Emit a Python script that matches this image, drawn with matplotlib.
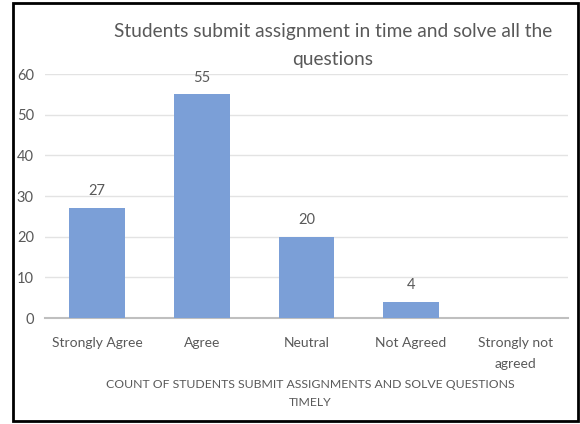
import matplotlib
matplotlib.use('Agg')
import matplotlib.pyplot as plt
from matplotlib.patches import Rectangle

categories = ['Strongly Agree', 'Agree', 'Neutral', 'Not Agreed', 'Strongly not\nagreed']
counts = [27, 55, 20, 4, 0]
bar_labels = ['27', '55', '20', '4', '']
yticks = [0, 10, 20, 30, 40, 50, 60]

plt.rcParams['font.family'] = ['Lato', 'DejaVu Sans']
txt = '#595959'

fig = plt.figure(figsize=(5.8, 4.24), dpi=100)
ax = fig.add_axes([45/580, 1-318/424, 523/580, 244/424])

x = list(range(len(categories)))
bars = ax.bar(x, counts, width=0.535, color='#7b9fd7', zorder=3)
for b, lab in zip(bars, bar_labels):
    if lab:
        ax.text(b.get_x() + b.get_width()/2, b.get_height() + 2.4, lab,
                ha='center', va='bottom', fontsize=10.5, color=txt)

ax.set_xlim(-0.5, 4.5)
ax.set_ylim(0, 60)
ax.set_yticks(yticks)
ax.set_xticks(x)
ax.set_xticklabels(categories, fontsize=10, color=txt, linespacing=1.9)
ax.tick_params(axis='y', labelsize=10.5, labelcolor=txt, length=0, pad=8)
ax.tick_params(axis='x', length=0, pad=14)
ax.grid(axis='y', color='#e3e3e3', linewidth=1, zorder=0)
for s in ['top', 'right', 'left']:
    ax.spines[s].set_visible(False)
ax.spines['bottom'].set_color('#bfbfbf')
ax.spines['bottom'].set_linewidth(1.5)

fig.text(333/580, 1-31/424, 'Students submit assignment in time and solve all the',
         ha='center', va='center', fontsize=13.8, color=txt)
fig.text(333/580, 1-60/424, 'questions', ha='center', va='center', fontsize=13.8, color=txt)
fig.text(310/580, 1-384/424, 'COUNT OF STUDENTS SUBMIT ASSIGNMENTS AND SOLVE QUESTIONS',
         ha='center', va='center', fontsize=8.8, color=txt)
fig.text(310/580, 1-403/424, 'TIMELY', ha='center', va='center', fontsize=8.8, color=txt)

# black frame around the picture
fig.patches.append(Rectangle((13/580, 1-421/424), 565/580, 418/424, transform=fig.transFigure,
                             fill=False, edgecolor='black', linewidth=2))

fig.savefig('out.png', dpi=100)
